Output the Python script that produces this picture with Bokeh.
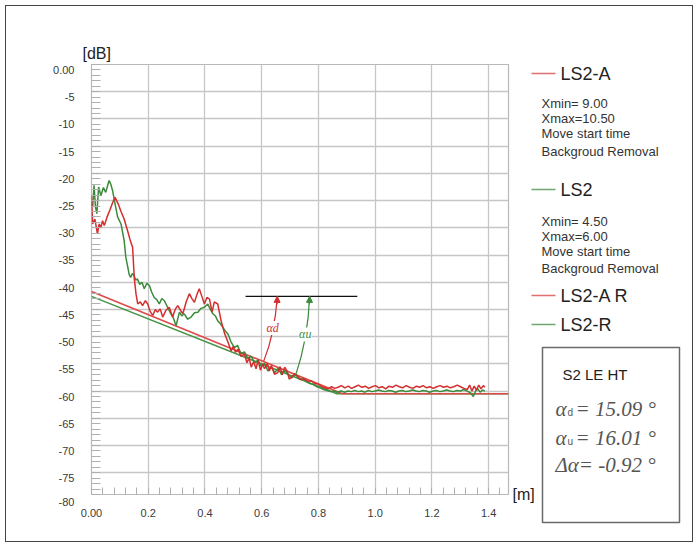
import numpy as np
from bokeh.plotting import figure
from bokeh.layouts import row
from bokeh.models import (Range1d, FixedTicker, Label, Arrow, NormalHead, LinearAxis, Grid)
from bokeh.core.properties import value
from bokeh.embed import file_html
from bokeh.resources import INLINE

# ---------------- data ----------------
ls2a_x = [0.000, 0.004, 0.012, 0.021, 0.027, 0.033, 0.039, 0.045, 0.055, 0.066, 0.075, 0.083,
          0.094, 0.104, 0.115, 0.127, 0.137, 0.145, 0.151, 0.157, 0.163, 0.172, 0.180, 0.190,
          0.198, 0.207, 0.216, 0.225, 0.233, 0.242, 0.251, 0.262, 0.274, 0.286, 0.295, 0.304,
          0.313, 0.322, 0.334, 0.345, 0.354, 0.363, 0.372, 0.380, 0.389, 0.398, 0.407, 0.416,
          0.425, 0.433, 0.445, 0.457, 0.469, 0.481, 0.492, 0.500, 0.508, 0.516, 0.527, 0.539,
          0.548, 0.556, 0.563, 0.572, 0.580, 0.587, 0.596, 0.603, 0.610, 0.620, 0.627, 0.634,
          0.645, 0.657, 0.665, 0.672, 0.681, 0.690, 0.697, 0.704, 0.716, 0.728, 0.740, 0.751,
          0.763, 0.775, 0.787, 0.799, 0.812, 0.823, 0.834, 0.846, 0.858, 0.869, 0.881, 0.893,
          0.905, 0.917, 0.929, 0.941, 0.953, 0.965, 0.977, 0.989, 1.001, 1.013, 1.025, 1.037,
          1.049, 1.061, 1.073, 1.085, 1.097, 1.109, 1.121, 1.133, 1.145, 1.157, 1.169, 1.181,
          1.193, 1.205, 1.217, 1.229, 1.241, 1.253, 1.265, 1.277, 1.289, 1.301, 1.313, 1.325,
          1.333, 1.341, 1.349, 1.357, 1.365, 1.373, 1.381, 1.387]
ls2a_y = [-24.1, -29.3, -28.4, -31.1, -29.3, -29.9, -28.7, -29.6, -28.0, -26.6, -25.3, -24.4,
          -25.6, -27.0, -28.4, -30.5, -32.4, -33.6, -39.4, -42.2, -44.0, -43.6, -44.3, -43.4,
          -44.0, -45.4, -46.1, -45.0, -45.5, -44.9, -46.4, -45.2, -44.6, -46.4, -45.0, -44.3,
          -45.1, -45.8, -43.6, -42.1, -43.0, -43.7, -42.2, -41.2, -42.6, -44.0, -42.8, -43.1,
          -45.5, -43.6, -44.0, -47.1, -49.4, -51.0, -52.6, -51.8, -52.9, -52.3, -53.6, -53.2,
          -54.8, -53.9, -55.6, -54.6, -55.9, -54.4, -56.2, -55.0, -55.9, -54.9, -56.3, -55.3,
          -56.9, -56.6, -55.5, -57.0, -55.6, -56.4, -57.8, -57.5, -56.8, -57.4, -57.9, -57.8,
          -58.2, -58.1, -58.6, -58.7, -59.2, -59.4, -59.6, -59.2, -59.5, -59.3, -59.0, -59.4,
          -59.1, -59.5, -59.2, -58.9, -59.3, -59.1, -59.5, -59.2, -59.0, -59.4, -59.2, -59.6,
          -59.1, -59.3, -58.9, -59.2, -59.4, -59.0, -59.3, -59.5, -59.1, -59.3, -59.0, -59.4,
          -59.2, -59.5, -59.2, -59.0, -59.3, -59.1, -59.4, -59.2, -58.9, -59.2, -59.5, -59.7,
          -58.9, -60.0, -59.1, -59.8, -58.9, -59.6, -59.0, -59.3]

ls2_x = [0.000, 0.004, 0.009, 0.014, 0.019, 0.025, 0.033, 0.042, 0.050, 0.056, 0.062, 0.068,
         0.074, 0.083, 0.092, 0.104, 0.115, 0.121, 0.127, 0.133, 0.138, 0.144, 0.150, 0.156,
         0.162, 0.170, 0.178, 0.186, 0.195, 0.204, 0.212, 0.221, 0.230, 0.239, 0.248, 0.257,
         0.268, 0.280, 0.289, 0.298, 0.310, 0.318, 0.327, 0.339, 0.351, 0.363, 0.375, 0.386,
         0.398, 0.410, 0.419, 0.428, 0.437, 0.445, 0.454, 0.463, 0.472, 0.481, 0.492, 0.504,
         0.515, 0.527, 0.539, 0.551, 0.563, 0.575, 0.587, 0.598, 0.610, 0.622, 0.634, 0.646,
         0.658, 0.670, 0.681, 0.693, 0.705, 0.711, 0.722, 0.734, 0.746, 0.758, 0.770, 0.782,
         0.794, 0.806, 0.818, 0.830, 0.842, 0.854, 0.866, 0.880, 0.892, 0.904, 0.916, 0.928,
         0.940, 0.952, 0.964, 0.976, 0.988, 1.000, 1.012, 1.024, 1.036, 1.048, 1.060, 1.072,
         1.084, 1.096, 1.108, 1.120, 1.132, 1.144, 1.156, 1.168, 1.180, 1.192, 1.204, 1.216,
         1.228, 1.240, 1.252, 1.264, 1.276, 1.288, 1.300, 1.312, 1.324, 1.336, 1.346, 1.354,
         1.362, 1.370, 1.378, 1.387]
ls2_y = [-25.6, -26.2, -22.2, -26.2, -27.4, -22.5, -24.1, -22.6, -23.5, -22.4, -21.3, -22.0,
         -23.1, -25.6, -28.0, -29.3, -32.3, -35.4, -37.0, -38.6, -39.1, -38.4, -38.8, -39.6,
         -39.4, -40.4, -40.0, -41.2, -40.2, -40.6, -41.8, -42.8, -43.2, -44.0, -43.0, -43.4,
         -44.6, -45.8, -46.6, -48.0, -45.5, -46.2, -45.8, -46.8, -46.4, -45.6, -45.5, -44.8,
         -44.6, -44.0, -45.0, -45.8, -46.2, -47.1, -47.6, -48.3, -49.0, -49.5, -51.0, -52.0,
         -51.6, -53.2, -52.8, -54.0, -53.6, -54.8, -54.3, -55.4, -54.9, -56.3, -55.6, -56.6,
         -55.8, -57.0, -56.2, -56.9, -57.6, -57.3, -57.0, -57.9, -57.7, -58.3, -58.6, -58.8,
         -59.2, -59.4, -59.7, -59.9, -60.1, -60.0, -60.2, -60.0, -60.2, -60.0, -60.1, -59.9,
         -60.1, -60.0, -60.2, -59.9, -60.1, -60.0, -59.8, -60.0, -60.1, -59.9, -60.0, -60.2,
         -60.0, -59.9, -60.1, -60.0, -59.8, -60.0, -60.1, -59.9, -60.0, -60.2, -60.0, -59.9,
         -60.1, -60.0, -59.8, -60.0, -60.1, -59.9, -60.0, -59.7, -60.0, -60.3, -61.0, -60.0,
         -59.6, -60.2, -59.8, -60.0]

ls2a_r_x = [0.0, 0.885, 1.47]
ls2a_r_y = [-41.7, -60.5, -60.5]
ls2_r_x = [0.0, 0.865, 1.47]
ls2_r_y = [-42.6, -60.5, -60.5]

x_ticks = [0.0, 0.2, 0.4, 0.6, 0.8, 1.0, 1.2, 1.4]
x_tick_labels = ["0.00", "0.2", "0.4", "0.6", "0.8", "1.0", "1.2", "1.4"]
y_ticks = [0, -5, -10, -15, -20, -25, -30, -35, -40, -45, -50, -55, -60, -65, -70, -75, -80]
y_tick_labels = ["0.00", "-5", "-10", "-15", "-20", "-25", "-30", "-35", "-40", "-45", "-50",
                 "-55", "-60", "-65", "-70", "-75", "-80"]
y_unit = "[dB]"
x_unit = "[m]"

legend_names = ["LS2-A", "LS2", "LS2-A R", "LS2-R"]
legend_notes = ["Xmin= 9.00", "Xmax=10.50", "Move start time", "Backgroud Removal",
                "Xmin= 4.50", "Xmax=6.00", "Move start time", "Backgroud Removal"]
box_title = "S2 LE HT"
angle_values = ["= 15.09 °", "= 16.01 °"]
angle_subs = ["d", "u"]
delta_text = "Δα= -0.92 °"

# reference marker (horizontal line + angle arrows)
ref_line_x = [0.543, 0.937]
ref_line_y = -42.6
arrow_d = dict(x0=0.607, y0=-54.5, cx=0.646, cy=-49.5, x1=0.655, y1=-42.6)
arrow_u = dict(x0=0.719, y0=-57.2, cx=0.763, cy=-50.5, x1=0.769, y1=-42.6)

RED = "#d42e2e"
GREEN = "#3b8b3b"
RED_R = "#de4a4a"
GREEN_R = "#47964a"
GRID = "#c6c6c6"
W, H = 698, 547
W1 = 510

# ---------------- main chart ----------------
p = figure(width=W1, height=H, x_range=Range1d(0, 1.47), y_range=Range1d(-79, 0),
           y_axis_location=None, output_backend="svg", toolbar_location=None,
           min_border_left=91, min_border_right=W1 - 508, min_border_top=64,
           min_border_bottom=H - 494)
p.border_fill_alpha = 0
p.outline_line_color = "#b8b8b8"
p.outline_line_width = 1.2

p.title.text = y_unit
p.title.text_font = "Liberation Sans"
p.title.text_font_size = "16px"
p.title.text_font_style = "normal"
p.title.text_color = "#222222"
p.title.align = "left"
p.title.offset = -9
p.title.standoff = 6

xax = p.xaxis[0]
xax.ticker = FixedTicker(ticks=x_ticks, minor_ticks=[round(v, 3) for v in np.arange(0, 1.47, 0.04)])
xax.major_label_overrides = {t: l for t, l in zip(x_ticks, x_tick_labels)}
xax.minor_tick_in = 7
xax.major_label_standoff = 14

# tick labels of the dB axis sit just below their grid lines (labels carried by an
# offset copy of the dB range; the last label hangs below the bottom edge)
p.extra_y_ranges = {"lbl": Range1d(-78, 1)}
lbl_pos = y_ticks[:-1] + [-78]
lbl_text = y_tick_labels[:-1] + ["\n" + y_tick_labels[-1]]
yax = LinearAxis(y_range_name="lbl",
                 ticker=FixedTicker(ticks=lbl_pos, minor_ticks=list(range(-78, 2))))
yax.major_label_overrides = {t: l for t, l in zip(lbl_pos, lbl_text)}
yax.minor_tick_in = 9
yax.major_label_standoff = 17
p.add_layout(yax, "left")
p.add_layout(Grid(dimension=1, ticker=FixedTicker(ticks=y_ticks), grid_line_color=GRID,
                  grid_line_width=1.3))

for ax in (xax, yax):
    ax.axis_line_color = None
    ax.major_tick_in = 0
    ax.major_tick_out = 0
    ax.minor_tick_out = 0
    ax.minor_tick_line_color = "#b0b0b0"
    ax.major_label_text_font = "Liberation Sans"
    ax.major_label_text_font_size = "11px"
    ax.major_label_text_color = "#3a3a3a"

p.xgrid.grid_line_color = GRID
p.xgrid.grid_line_width = 1.3

# regression lines
p.line(ls2_r_x, ls2_r_y, color=GREEN_R, line_width=1.6)
p.line(ls2a_r_x, ls2a_r_y, color=RED_R, line_width=1.6)
# measured curves
p.line(ls2_x, ls2_y, color=GREEN, line_width=1.5)
p.line(ls2a_x, ls2a_y, color=RED, line_width=1.5)

# reference line and angle arrows
p.segment(x0=[ref_line_x[0]], y0=[ref_line_y], x1=[ref_line_x[1]], y1=[ref_line_y],
          color="#111111", line_width=1.3)
for a, col, txt in ((arrow_d, RED, "αd"), (arrow_u, GREEN, "αu")):
    p.quadratic(x0=[a["x0"]], y0=[a["y0"]], x1=[a["x1"]], y1=[a["y1"]],
                cx=[a["cx"]], cy=[a["cy"]], color=col, line_width=1.2)
    p.add_layout(Arrow(end=NormalHead(size=6, fill_color=col, line_color=col),
                       x_start=a["x1"] - 0.001, y_start=a["y1"] - 1.5,
                       x_end=a["x1"], y_end=a["y1"], line_color=col, line_width=1.2))
    mx = 0.25 * a["x0"] + 0.5 * a["cx"] + 0.25 * a["x1"]
    my = 0.25 * a["y0"] + 0.5 * a["cy"] + 0.25 * a["y1"]
    p.add_layout(Label(x=mx, y=my + 0.6, text=txt, text_color=col, text_font="Liberation Serif",
                       text_font_style="italic", text_font_size="12px", text_align="center",
                       text_baseline="middle", background_fill_color="white"))

# ---------------- side panel (legend + result box), in page pixels ----------------
q = figure(width=W - W1, height=H, x_range=Range1d(W1, W), y_range=Range1d(H, 0),
           x_axis_type=None, y_axis_type=None, output_backend="svg", toolbar_location=None,
           min_border=0, min_border_left=0, min_border_right=0, min_border_top=0,
           min_border_bottom=0)
q.grid.visible = False
q.outline_line_color = None
q.border_fill_alpha = 0
q.background_fill_alpha = 0
for fig in (p, q):
    try:
        fig.frame_align = False
    except Exception:
        pass

SANS = value("Liberation Sans")
SERIF = value("Liberation Serif")

q.text(x=[512], y=[494], text=[x_unit], text_font=SANS, text_font_size="16px",
       text_color="#222222", text_baseline="middle")

leg_y = [73, 189, 295, 324]
leg_lc = ["#e07070", "#6fa86f", "#e07070", "#6fa86f"]
q.segment(x0=[531] * 4, x1=[555] * 4, y0=leg_y, y1=leg_y, color=leg_lc, line_width=1.6)
q.text(x=[560] * 4, y=leg_y, text=legend_names, text_font=SANS, text_font_size="18px",
       text_color="#222222", text_baseline="middle")
note_y = [103, 118, 133, 151, 221, 236, 251, 268]
q.text(x=[541] * 8, y=note_y, text=legend_notes, text_font=SANS, text_font_size="13px",
       text_color="#333333", text_baseline="middle")

q.quad(left=[542], right=[679], top=[347], bottom=[522], fill_alpha=0,
       line_color="#6a6a6a", line_width=1.5)
q.text(x=[562], y=[374], text=[box_title], text_font=SANS, text_font_size="15px",
       text_color="#222222", text_baseline="middle")
row_y = [408, 437]
q.text(x=[555, 555], y=row_y, text=["α", "α"], text_font=SERIF, text_font_style="italic",
       text_font_size="21px", text_color="#555555", text_baseline="middle")
q.text(x=[567, 567], y=[r + 4 for r in row_y], text=angle_subs, text_font=SANS,
       text_font_size="10px", text_color="#555555", text_baseline="middle")
q.text(x=[575, 575], y=row_y, text=angle_values, text_font=SERIF, text_font_style="italic",
       text_font_size="21px", text_color="#555555", text_baseline="middle")
q.text(x=[555], y=[464], text=[delta_text], text_font=SERIF, text_font_style="italic",
       text_font_size="21px", text_color="#555555", text_baseline="middle")

layout = row(p, q, styles={"outline": "1px solid #444444", "outline-offset": "-6px"})
open("out.html", "w").write(file_html(layout, INLINE))
